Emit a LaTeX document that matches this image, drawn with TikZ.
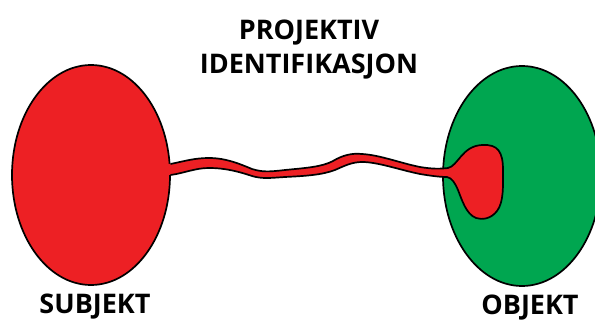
\documentclass[tikz,border=0pt]{standalone}
\usepackage{fontspec}
\setmainfont{Open Sans}
\usetikzlibrary{shapes.geometric}

\definecolor{subjred}{RGB}{237,32,36}
\definecolor{objgreen}{RGB}{0,166,80}

% outline of the band: top edge, the bulb inside the object, bottom edge back
\newcommand\bandline{(170.5,164)
  .. controls (185,161) and (195,158) .. (209,158)
  .. controls (226,158) and (240,164) .. (252,169)
  .. controls (262,172) and (268,172) .. (285,170)
  .. controls (305,168) and (322,167) .. (333,161)
  .. controls (343,155) and (352,153) .. (362,154)
  .. controls (380,155) and (400,163) .. (420,167)
  .. controls (432,169) and (440,169) .. (448,168)
  .. controls (458,166) and (462,146) .. (482,145)
  .. controls (498,144) and (503,152) .. (503,170)
  .. controls (503,185) and (504,202) .. (497,211)
  .. controls (491,219) and (482,220) .. (476,218)
  .. controls (466,214) and (462,200) .. (458,190)
  .. controls (455,183) and (452,178) .. (447,177)
  .. controls (440,177) and (432,176) .. (420,174)
  .. controls (400,170) and (378,162) .. (362,162)
  .. controls (352,162) and (344,166) .. (335,170)
  .. controls (322,175) and (305,176) .. (285,177)
  .. controls (270,178) and (262,179) .. (252,176)
  .. controls (240,172) and (226,168) .. (209,168)
  .. controls (195,168) and (185,173) .. (170.5,175)}

\begin{document}
\begin{tikzpicture}[x=1pt, y=-1pt,
  % --- Styles ---
  person/.style={
    ellipse, draw=black, line width=1.7pt, inner sep=0pt,
    minimum width=158pt, minimum height=220pt
  },
  caption/.style={
    font=\fontsize{27}{34}\selectfont\bfseries, align=center, inner sep=0pt
  },
  band/.style={
    draw=black, line width=1.7pt, line join=round
  }
  ]
  \useasboundingbox (0,0) rectangle (595,320);

  % --- 1. Subject and object ---
  \node [person, fill=subjred] (subjekt) at (91,175) {};
  \node [person, fill=objgreen] (objekt) at (522,176) {};

  % --- 2. Labels ---
  \node [caption] (title) at (309,50) {PROJEKTIV\\IDENTIFIKASJON};
  \node [caption, text depth=0pt, anchor=base] (subjlabel) at (95,314) {SUBJEKT};
  \node [caption, text depth=0pt, anchor=base] (objlabel) at (530,315) {OBJEKT};

  % --- 3. The band reaching into the object ---
  \fill [subjred] \bandline -- (160,175) -- (160,164) -- cycle;
  \draw [band] \bandline;

\end{tikzpicture}
\end{document}
